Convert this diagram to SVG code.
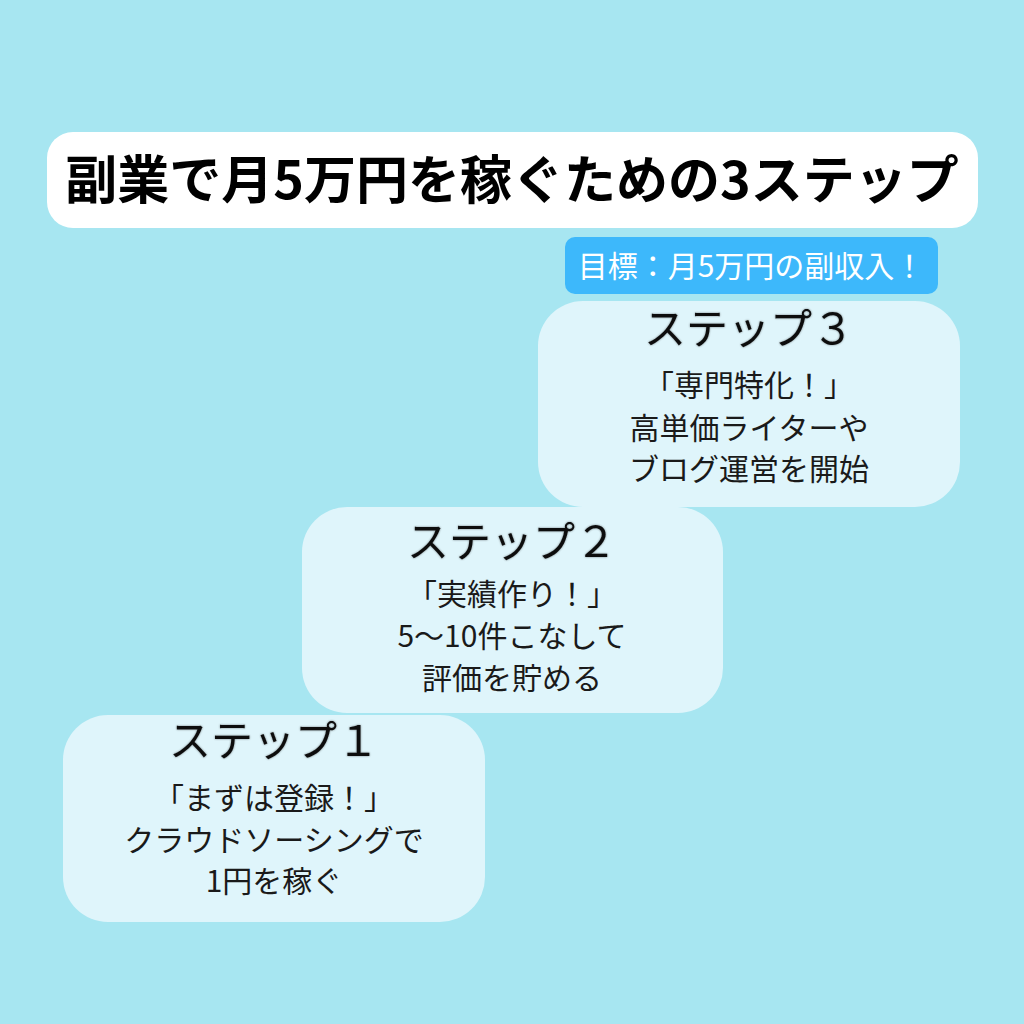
<svg xmlns="http://www.w3.org/2000/svg" width="1024" height="1024" viewBox="0 0 1024 1024">
<defs>
<style>
.bg{fill:#A7E6F1}
.card{fill:#DFF5FB}
.t{font-family:"Noto Sans CJK JP","Noto Sans",sans-serif;text-anchor:middle;fill:#1a1a1a}
.head{font-size:42px;font-weight:400;fill:#111}
.body{font-size:30px;font-weight:400}
.title{font-size:52px;font-weight:700;fill:#000}
.goal{font-size:30px;fill:#fff}
</style>
<filter id="sh" x="-10%" y="-20%" width="120%" height="140%">
<feGaussianBlur in="SourceAlpha" stdDeviation="1.2" result="b"/>
<feComponentTransfer in="b" result="c"><feFuncA type="linear" slope="0.45"/></feComponentTransfer>
<feMerge><feMergeNode in="c"/><feMergeNode in="SourceGraphic"/></feMerge>
</filter>
</defs>
<rect class="bg" x="0" y="0" width="1024" height="1024"/>
<g id="title">
<rect x="47" y="132" width="931" height="96" rx="26" fill="#fff"/>
<text class="t title" x="512" y="199">副業で月5万円を稼ぐための3ステップ</text>
</g>
<g id="goal">
<rect x="565" y="237" width="373" height="57" rx="10" fill="#3DB8FB"/>
<text class="t goal" x="751" y="277">目標：月5万円の副収入！</text>
</g>
<g id="connectors"></g>
<g id="step3">
<rect class="card" x="538" y="301" width="422" height="206" rx="45"/>
<text class="t head" x="749" y="344" filter="url(#sh)">ステップ３</text>
<text class="t body" x="749" y="396">「専門特化！」</text>
<text class="t body" x="749" y="439">高単価ライターや</text>
<text class="t body" x="749" y="480">ブログ運営を開始</text>
</g>
<g id="step2">
<rect class="card" x="302" y="507" width="421" height="206" rx="45"/>
<text class="t head" x="512" y="557" filter="url(#sh)">ステップ２</text>
<text class="t body" x="512" y="605">「実績作り！」</text>
<text class="t body" x="512" y="647">5〜10件こなして</text>
<text class="t body" x="512" y="689">評価を貯める</text>
</g>
<g id="step1">
<rect class="card" x="63" y="715" width="422" height="207" rx="45"/>
<text class="t head" x="274" y="756" filter="url(#sh)">ステップ１</text>
<text class="t body" x="274" y="809">「まずは登録！」</text>
<text class="t body" x="274" y="851">クラウドソーシングで</text>
<text class="t body" x="274" y="892">1円を稼ぐ</text>
</g>
</svg>
